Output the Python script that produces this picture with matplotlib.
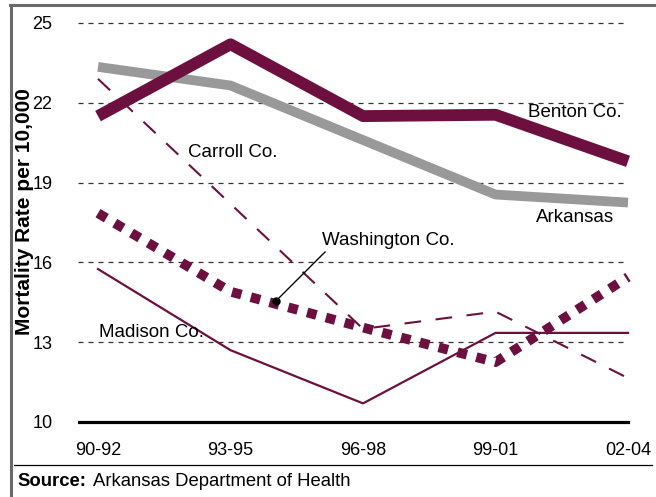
import matplotlib.pyplot as plt
from matplotlib.lines import Line2D

plt.rcParams['font.family'] = ['Liberation Sans', 'DejaVu Sans']

periods = ['90-92', '93-95', '96-98', '99-01', '02-04']
benton = [21.5, 24.2, 21.5, 21.55, 19.8]
arkansas = [23.35, 22.65, 20.6, 18.55, 18.25]
carroll = [22.9, 18.2, 13.5, 14.15, 11.65]
washington = [17.85, 14.9, 13.55, 12.25, 15.45]
madison = [15.75, 12.7, 10.7, 13.35, 13.35]
yticks = [10, 13, 16, 19, 22, 25]

maroon = '#6d1040'
gray = '#999999'

fig = plt.figure(figsize=(6.56, 4.97), dpi=100)
W, H = 656, 497
ax = fig.add_axes([78 / W, 1 - 435.3 / H, (632 - 78) / W, (435.3 - 9.7) / H])
ax.set_xlim(-0.151, 4.03)
ax.set_ylim(9.5, 25.5)

x = list(range(len(periods)))

# dashed gridlines
for v in yticks[1:]:
    ax.axhline(v, xmin=0, xmax=(628 - 78) / (632 - 78), color='#333333',
               lw=0.9, ls=(0, (4, 4)), zorder=1)
ax.axhline(10, xmin=0, xmax=(628 - 78) / (632 - 78), color='black', lw=2.3, zorder=2)

ax.plot(x, madison, color=maroon, lw=1.6, zorder=3)
ax.plot(x, carroll, color=maroon, lw=1.5, ls=(0, (8, 7)), zorder=3)
ax.plot(x, washington, color=maroon, lw=7, ls=(0, (1, 1)),
        dash_capstyle='butt', zorder=4)
ax.plot(x, arkansas, color=gray, lw=7, solid_capstyle='butt', zorder=3)
ax.plot(x, benton, color=maroon, lw=8.5, solid_capstyle='butt', zorder=4)

fs = 13.5
ax.text(3.245, 21.65, 'Benton Co.', fontsize=fs, va='center', ha='left')
ax.text(3.306, 17.67, 'Arkansas', fontsize=fs, va='center', ha='left')
ax.text(0.679, 20.15, 'Carroll Co.', fontsize=fs, va='center', ha='left')
ax.text(0.008, 13.38, 'Madison Co.', fontsize=fs, va='center', ha='left')
ax.text(1.69, 16.84, 'Washington Co.', fontsize=fs, va='center', ha='left')
ax.plot([1.713, 1.343], [16.39, 14.55], color='black', lw=1, zorder=5)
ax.plot([1.343], [14.55], 'o', color='black', ms=5, zorder=5)

ax.set_xticks(x)
ax.set_xticklabels(periods, fontsize=13)
ax.set_yticks(yticks)
ax.set_yticklabels([str(v) for v in yticks], fontsize=13)
ax.tick_params(axis='y', length=0, pad=18.5)
ax.tick_params(axis='x', length=0, pad=4.5)
for s in ax.spines.values():
    s.set_visible(False)
ax.set_ylabel('Mortality Rate per 10,000', fontsize=15, fontweight='bold')
ax.yaxis.set_label_coords(-(78 - 34) / (632 - 78), 0.526)

# frame and source line
fig.add_artist(Line2D([10 / W, 1], [1 - 5 / H, 1 - 5 / H], color='#6a6a6a', lw=2.2))
fig.add_artist(Line2D([11 / W, 11 / W], [0, 1 - 5 / H], color='#6a6a6a', lw=2.2))
fig.add_artist(Line2D([14 / W, 652 / W], [1 - 465 / H, 1 - 465 / H], color='black', lw=0.9))

fig.text(17 / W, 1 - 481 / H, 'Source:', fontsize=13.3, fontweight='bold', va='center')
fig.text(93 / W, 1 - 481 / H, 'Arkansas Department of Health', fontsize=13.3, va='center')

fig.savefig('out.png', dpi=100)
